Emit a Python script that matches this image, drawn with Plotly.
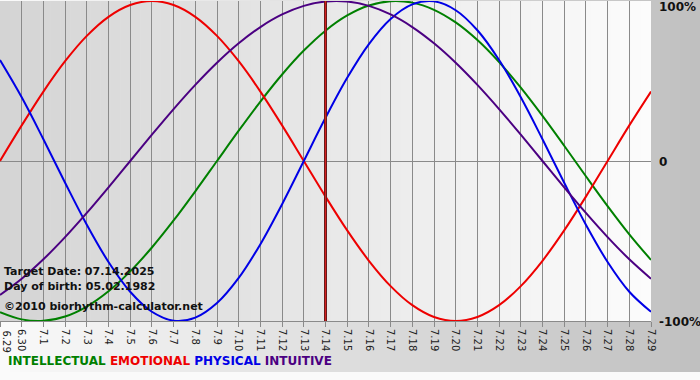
import plotly.graph_objects as go

# ---- data ----
dates = ["6.29", "6.30"] + [f"7.{d}" for d in range(1, 30)]
intellectual = [-0.9450, -0.9898, -0.9989, -0.9718, -0.9096, -0.8146, -0.6901, -0.5406, -0.3717, -0.1893,
                0.0, 0.1893, 0.3717, 0.5406, 0.6901, 0.8146, 0.9096, 0.9718, 0.9989, 0.9898, 0.9450,
                0.8660, 0.7557, 0.6182, 0.4582, 0.2817, 0.0951, -0.0951, -0.2817, -0.4582, -0.6182]
emotional = [0.0, 0.2225, 0.4339, 0.6235, 0.7818, 0.9010, 0.9749, 1.0, 0.9749, 0.9010, 0.7818,
             0.6235, 0.4339, 0.2225, 0.0, -0.2225, -0.4339, -0.6235, -0.7818, -0.9010, -0.9749,
             -1.0, -0.9749, -0.9010, -0.7818, -0.6235, -0.4339, -0.2225, 0.0, 0.2225, 0.4339]
physical = [0.6311, 0.3984, 0.1362, -0.1362, -0.3984, -0.6311, -0.8170, -0.9423, -0.9977, -0.9791,
            -0.8879, -0.7308, -0.5196, -0.2698, 0.0, 0.2698, 0.5196, 0.7308, 0.8879, 0.9791, 0.9977,
            0.9423, 0.8170, 0.6311, 0.3984, 0.1362, -0.1362, -0.3984, -0.6311, -0.8170, -0.9423]
intuitive = [-0.8372, -0.7357, -0.6142, -0.4759, -0.3247, -0.1646, 0.0, 0.1646, 0.3247, 0.4759, 0.6142,
             0.7357, 0.8372, 0.9158, 0.9694, 0.9966, 0.9966, 0.9694, 0.9158, 0.8372, 0.7357, 0.6142,
             0.4759, 0.3247, 0.1646, 0.0, -0.1646, -0.3247, -0.4759, -0.6142, -0.7357]
target_date = "7.14"
y_ticks = [1, 0, -1]
y_labels = ["100%", "0", "-100%"]
info_lines = ["Target Date: 07.14.2025", "Day of birth: 05.02.1982", "©2010 biorhythm-calculator.net"]
legend_names = ["INTELLECTUAL", "EMOTIONAL", "PHYSICAL", "INTUITIVE"]

COL = {"INTELLECTUAL": "#008000", "EMOTIONAL": "#ee0000", "PHYSICAL": "#0000e6", "INTUITIVE": "#4b0082"}

W, H = 700, 380
L, R, T, B = 0, 49, 1, 59
PW, PH = W - L - R, H - T - B


def px(x):
    return (x - L) / PW


def py(y):
    return (H - B - y) / PH


def grey(v):
    v = int(round(v))
    return f"rgb({v},{v},{v})"


fig = go.Figure()
idx = list(range(len(dates)))
for name, vals in zip(legend_names, [intellectual, emotional, physical, intuitive]):
    fig.add_trace(go.Scatter(x=idx, y=vals, mode="lines", line=dict(color=COL[name], width=2, shape="spline", smoothing=1.0),
                             showlegend=False, hoverinfo="skip"))

shapes = []
# paper background gradient
N = 70
for i in range(N):
    x0 = W * i / N
    x1 = W * (i + 1) / N + 0.5
    c = 250 - (250 - 192) * (i + 0.5) / N
    shapes.append(dict(type="rect", xref="paper", yref="paper", x0=px(x0), x1=px(x1), y0=py(H), y1=py(0),
                       fillcolor=grey(c), line=dict(width=0), layer="below"))
# plot area gradient
N2 = 65
for i in range(N2):
    x0 = PW * i / N2
    x1 = PW * (i + 1) / N2 + 0.5
    c = 212 + (252 - 212) * (i + 0.5) / N2
    shapes.append(dict(type="rect", xref="paper", yref="paper", x0=x0 / PW, x1=min(x1 / PW, 1), y0=0, y1=1,
                       fillcolor=grey(c), line=dict(width=0), layer="below"))
# bottom white strip
shapes.append(dict(type="rect", xref="paper", yref="paper", x0=px(0), x1=px(W), y0=py(H), y1=py(372),
                   fillcolor="#fafafa", line=dict(width=0), layer="below"))
# target marker
ti = dates.index(target_date)
shapes.append(dict(type="line", xref="x", yref="paper", x0=ti, x1=ti, y0=0, y1=1,
                   line=dict(color="#6a1a1a", width=3), layer="above"))
shapes.append(dict(type="line", xref="x", yref="paper", x0=ti, x1=ti, y0=0, y1=1,
                   line=dict(color="#d42020", width=1), layer="above"))

annotations = []
for v, lab in zip(y_ticks, y_labels):
    ypix = {1: 7, 0: 162, -1: 322}[v]
    annotations.append(dict(x=px(657), y=py(ypix), xref="paper", yref="paper", text=lab, showarrow=False,
                            xanchor="left", yanchor="middle",
                            font=dict(family="DejaVu Sans", size=12, color="#111", weight="bold")))
for ypix, t in zip([271, 286, 306], info_lines):
    annotations.append(dict(x=px(2), y=py(ypix), xref="paper", yref="paper", text=t, showarrow=False,
                            xanchor="left", yanchor="middle",
                            font=dict(family="DejaVu Sans", size=11, color="#111", weight="bold")))
leg_text = "&nbsp;".join(f"<span style='color:{COL[n]}'>{n}</span>" for n in legend_names)
annotations.append(dict(x=px(6), y=py(361), xref="paper", yref="paper", text=leg_text, showarrow=False,
                        xanchor="left", yanchor="middle",
                        font=dict(family="DejaVu Sans", size=12, weight="bold")))
# first date label at the left edge (kept fully visible)
annotations.append(dict(x=0, y=0, xref="x", yref="paper", text=dates[0], showarrow=False, textangle=90,
                        xanchor="left", yanchor="top", yshift=-7, xshift=-1,
                        font=dict(family="DejaVu Sans", size=10, color="#222")))

fig.update_layout(
    width=W, height=H, margin=dict(l=L, r=R, t=T, b=B),
    paper_bgcolor="#c0c0c0", plot_bgcolor="rgba(0,0,0,0)",
    shapes=shapes, annotations=annotations,
    xaxis=dict(range=[0, len(dates) - 1], tickmode="array", tickvals=idx, ticktext=dates, tickangle=90,
               showgrid=True, gridcolor="#8a8a8a", gridwidth=1, ticks="outside", ticklen=5, tickcolor="#8a8a8a",
               tickfont=dict(family="DejaVu Sans", size=10, color="#222"), zeroline=False,
               showline=True, linecolor="#8a8a8a", linewidth=1, fixedrange=True),
    yaxis=dict(range=[-1, 1], tickvals=y_ticks, showticklabels=False, showgrid=True, gridcolor="#8a8a8a",
               zeroline=True, zerolinecolor="#8a8a8a", zerolinewidth=1, showline=False, fixedrange=True),
)

fig.write_html("out.html", config={"displayModeBar": False},
               post_script="document.body.style.margin='0';document.body.style.padding='0';")
